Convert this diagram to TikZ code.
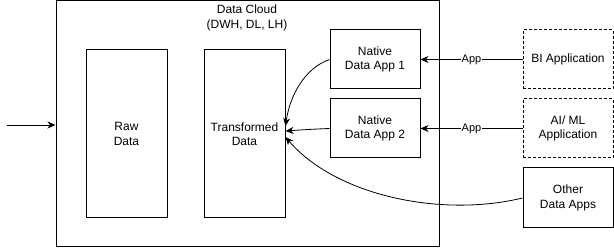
\documentclass[tikz,border=0pt]{standalone}
\usepackage{fontspec}
\setmainfont{Liberation Sans}
\usetikzlibrary{arrows.meta}
\begin{document}
\begin{tikzpicture}[x=1pt,y=-1pt,
  box/.style={draw, line width=1pt, inner sep=0pt, align=center, font=\fontsize{12}{14.5}\selectfont},
  dbox/.style={box, dashed, dash pattern=on 3pt off 2pt},
  arr/.style={line width=0.8pt, -{Stealth[length=8pt,width=7pt,inset=2.5pt]}},
  lbl/.style={fill=white, inner sep=0.5pt, font=\fontsize{11}{13}\selectfont}]
\useasboundingbox (0,0) rectangle (614,248);
% container
\node[box, minimum width=383pt, minimum height=246pt] (cloud) at (247.5,124) {};
\node[align=center, font=\fontsize{12}{15}\selectfont] (title) at (247,17.5) {Data Cloud\\(DWH, DL, LH)};
% inner boxes
\node[box, minimum width=81pt, minimum height=168pt] (raw) at (126.5,134) {Raw\\Data};
\node[box, minimum width=81pt, minimum height=168pt] (trans) at (244.5,134) {Transformed\\Data};
\node[box, minimum width=90pt, minimum height=59pt] (app1) at (375,59.5) {Native\\Data App 1};
\node[box, minimum width=90pt, minimum height=59pt] (app2) at (375,128.5) {Native\\Data App 2};
\node[dbox, minimum width=90pt, minimum height=59pt] (bi) at (568,59.5) {BI Application};
\node[dbox, minimum width=90pt, minimum height=59pt] (ai) at (568,128.5) {AI/ ML\\Application};
\node[box, minimum width=90pt, minimum height=60pt] (other) at (568,198) {Other\\Data Apps};
% input arrow
\coordinate (src) at (7,125);
\draw[arr] (src) -- (cloud.west |- src);
% App arrows
\draw[arr] (bi.west) -- node[lbl] {App} (app1.east);
\draw[arr] (ai.west) -- node[lbl] {App} (app2.east);
% curves into Transformed Data
\coordinate (t1) at (285.5,126);
\coordinate (t2) at (285.5,131);
\coordinate (t3) at (285.5,137);
\draw[arr] (app1.west) .. controls (305,68) and (290,95) .. (t1);
\draw[arr] (app2.west) .. controls (315,129) and (300,130) .. (t2);
\draw[arr] (other.west) .. controls (440,218) and (335,195) .. (t3);
\end{tikzpicture}
\end{document}
